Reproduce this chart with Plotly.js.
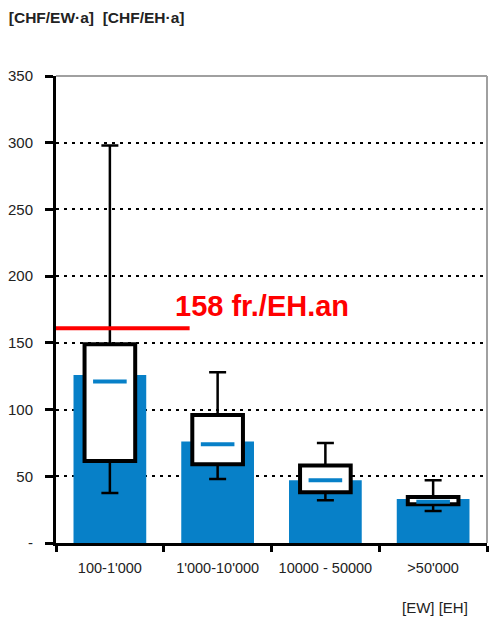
<!DOCTYPE html>
<html>
<head>
<meta charset="utf-8">
<script src="https://cdn.plot.ly/plotly-3.0.1.min.js"></script>
<style>html,body{margin:0;padding:0;background:#fff;}#chart{width:489px;height:624px;}</style>
</head>
<body>
<div id="chart"></div>
<script>
// Data
const categories = ["100-1'000", "1'000-10'000", "10000 - 50000", ">50'000"];
const meanValues = [126, 76, 47, 33];      // blue bars
const q1Values = [61.5, 59, 38, 29];        // box bottom
const q3Values = [149, 96, 58, 34.5];       // box top
const medianValues = [121, 74, 47, 31];     // blue dash in box
const lowerWhisker = [37.5, 48, 32, 24];
const upperWhisker = [298, 128, 75, 47];
const refValue = 161;                        // red reference line
const refLabel = "158 fr./EH.an";
const yTickVals = [0, 50, 100, 150, 200, 250, 300, 350];
const yTickText = ["-", "50", "100", "150", "200", "250", "300", "350"];

const blue = "#0780c8";
const font = "Liberation Sans, Arial, sans-serif";

const boxHeights = q3Values.map((v, i) => v - q1Values[i]);
const upperErr = upperWhisker.map((v, i) => v - q3Values[i]);
const lowerErr = q1Values.map((v, i) => v - lowerWhisker[i]);

const traces = [
  {type: "bar", x: categories, y: meanValues, width: 0.675,
   marker: {color: blue, line: {width: 0}}, hoverinfo: "none"},
  {type: "bar", x: categories, y: boxHeights, base: q1Values, width: 0.47,
   marker: {color: "#ffffff", line: {color: "#000000", width: 4}}, hoverinfo: "none"},
  {type: "scatter", mode: "markers", x: categories, y: q3Values,
   marker: {size: 1, opacity: 0},
   error_y: {type: "data", symmetric: false, array: upperErr, arrayminus: q3Values.map(() => 0),
             color: "#000000", thickness: 2.5, width: 8.5}, hoverinfo: "none"},
  {type: "scatter", mode: "markers", x: categories, y: q1Values,
   marker: {size: 1, opacity: 0},
   error_y: {type: "data", symmetric: false, array: q1Values.map(() => 0), arrayminus: lowerErr,
             color: "#000000", thickness: 2.5, width: 8.5}, hoverinfo: "none"},
  {type: "scatter", mode: "markers", x: categories, y: medianValues,
   marker: {symbol: "line-ew", size: 24, line: {color: blue, width: 4}}, hoverinfo: "none"}
];

const layout = {
  width: 489, height: 624,
  margin: {l: 56, r: 2, t: 76, b: 81},
  paper_bgcolor: "#ffffff", plot_bgcolor: "#ffffff",
  showlegend: false, barmode: "overlay",
  font: {family: font, size: 14.5, color: "#222222"},
  title: {text: "<b>[CHF/EW·a]&nbsp;&nbsp;[CHF/EH·a]</b>", x: 0.018, xanchor: "left",
          y: 0.972, yanchor: "middle", font: {family: font, size: 15.5, color: "#222222"}},
  xaxis: {type: "category", range: [-0.5, 3.5], tickson: "boundaries", ticks: "outside",
          ticklen: 6, tickwidth: 3, tickcolor: "#000000", showline: true, linecolor: "#000000",
          linewidth: 3, showgrid: false, zeroline: false, fixedrange: true,
          tickfont: {family: font, size: 14.5, color: "#222222"}, ticklabelstandoff: 10},
  yaxis: {range: [0, 350], tickvals: yTickVals, ticktext: yTickText, ticks: "outside",
          ticklen: 8, tickwidth: 3, tickcolor: "#000000", showline: true, linecolor: "#000000",
          linewidth: 3, showgrid: true, gridcolor: "#000000", gridwidth: 2, griddash: "3px,5px",
          zeroline: false, fixedrange: true, ticklabelstandoff: 9,
          tickfont: {family: font, size: 15, color: "#222222"}},
  shapes: [
    {type: "line", xref: "paper", yref: "paper", x0: 0, x1: 1, y0: 1, y1: 1,
     line: {color: "#a0a0a0", width: 2}, layer: "above"},
    {type: "line", xref: "paper", yref: "paper", x0: 1, x1: 1, y0: 0, y1: 1,
     line: {color: "#a0a0a0", width: 2}, layer: "above"},
    {type: "line", xref: "x", yref: "y", x0: -0.5, x1: 0.74, y0: refValue, y1: refValue,
     line: {color: "#ff0000", width: 4}, layer: "above"}
  ],
  annotations: [
    {text: "<b>" + refLabel + "</b>", xref: "x", yref: "y", x: 0.59, y: 178, xanchor: "left",
     yanchor: "middle", showarrow: false, font: {family: font, size: 29, color: "#ff0000"}},
    {text: "[EW] [EH]", xref: "paper", yref: "paper", x: 0.879, y: -0.139, xanchor: "center",
     yanchor: "middle", showarrow: false, font: {family: font, size: 15, color: "#222222"}}
  ]
};

Plotly.newPlot("chart", traces, layout, {displayModeBar: false, staticPlot: true});
</script>
</body>
</html>
